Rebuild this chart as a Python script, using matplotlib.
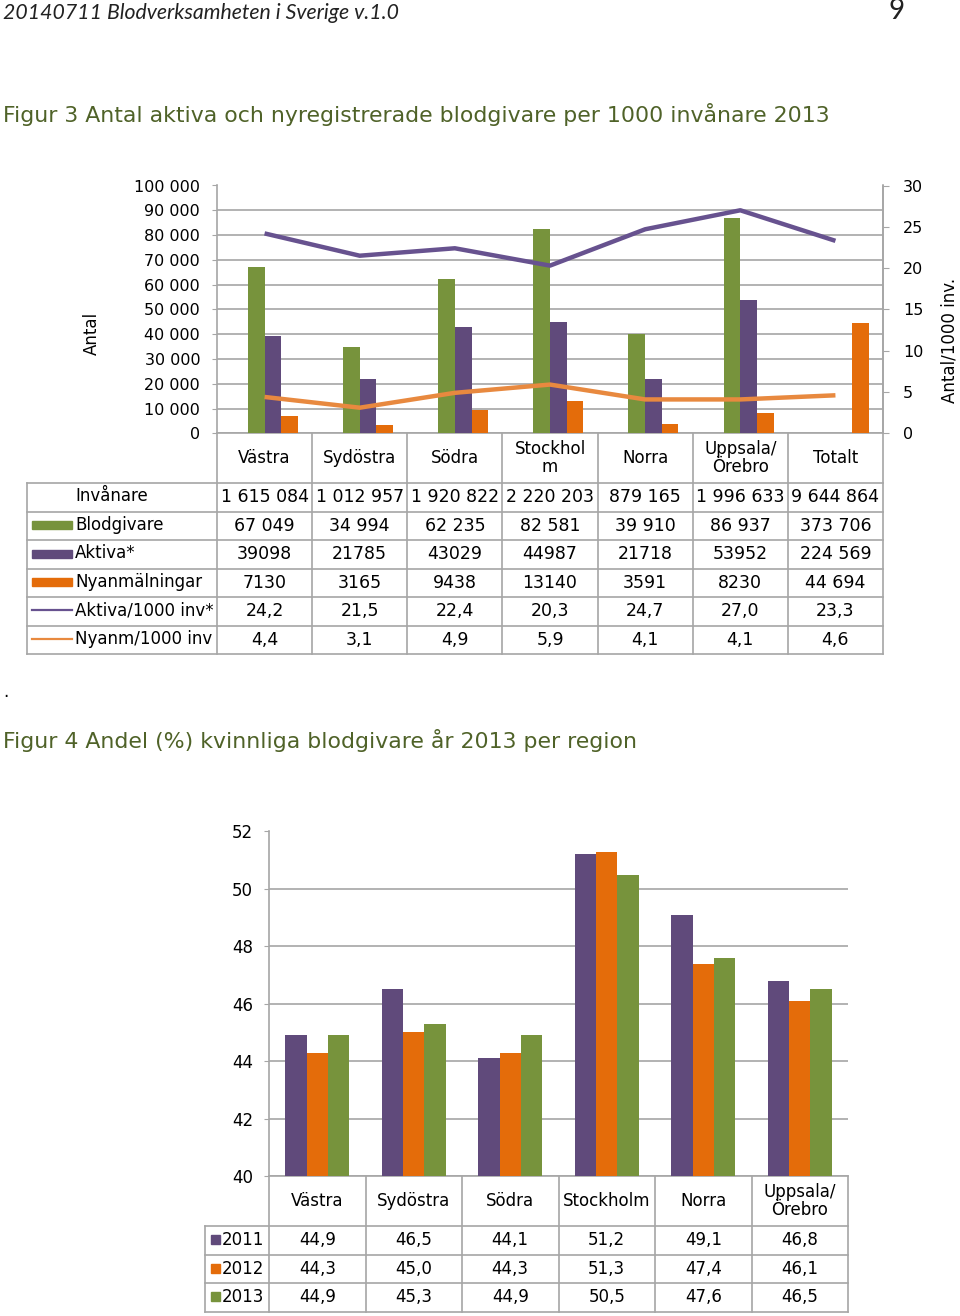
import matplotlib
matplotlib.use("Agg")
import matplotlib.pyplot as plt
import numpy as np

plt.rcParams['font.family'] = ['DejaVu Sans']

# --- Figur 3 data ---
kategorier3 = ["Västra", "Sydöstra", "Södra", "Stockhol\nm", "Norra", "Uppsala/\nÖrebro", "Totalt"]
invanare = [1615084, 1012957, 1920822, 2220203, 879165, 1996633, 9644864]
blodgivare = [67049, 34994, 62235, 82581, 39910, 86937, 373706]
aktiva = [39098, 21785, 43029, 44987, 21718, 53952, 224569]
nyanm = [7130, 3165, 9438, 13140, 3591, 8230, 44694]
aktiva_1000 = [24.2, 21.5, 22.4, 20.3, 24.7, 27.0, 23.3]
nyanm_1000 = [4.4, 3.1, 4.9, 5.9, 4.1, 4.1, 4.6]
vanster_ticks = [0, 10000, 20000, 30000, 40000, 50000, 60000, 70000, 80000, 90000, 100000]
hoger_ticks = [0, 5, 10, 15, 20, 25, 30]

# --- Figur 4 data ---
kategorier4 = ["Västra", "Sydöstra", "Södra", "Stockholm", "Norra", "Uppsala/\nÖrebro"]
ar = ["2011", "2012", "2013"]
andel2011 = [44.9, 46.5, 44.1, 51.2, 49.1, 46.8]
andel2012 = [44.3, 45.0, 44.3, 51.3, 47.4, 46.1]
andel2013 = [44.9, 45.3, 44.9, 50.5, 47.6, 46.5]
ticks4 = [40, 42, 44, 46, 48, 50, 52]

GRON = "#77933C"
LILA = "#604A7B"
ORANGE = "#E46C0A"
LILA_LINJE = "#67528F"
ORANGE_LINJE = "#E8893F"
GRID = "#A6A6A6"
TITELFARG = "#4F6228"

W, H = 960, 1316
fig = plt.figure(figsize=(W / 100, H / 100), dpi=100)


def ax_rect(x0, y0, x1, y1):
    # pixel box (top-left origin) -> figure fraction
    return [x0 / W, 1 - y1 / H, (x1 - x0) / W, (y1 - y0) / H]


def fmt(v, grupp):
    if isinstance(v, float):
        return f"{v:.1f}".replace(".", ",")
    if grupp:
        return f"{v:,}".replace(",", " ")
    return str(v)


# overlay for text and tables, pixel coordinates
ov = fig.add_axes([0, 0, 1, 1])
ov.set_xlim(0, W)
ov.set_ylim(H, 0)
ov.axis("off")
ov.patch.set_alpha(0)

ov.text(3, 13, "20140711 Blodverksamheten i Sverige v.1.0", fontsize=15.3, style="italic",
        family="Lato", va="center", ha="left", color="#222222")
ov.text(897, 11, "9", fontsize=20, family="Lato", va="center", ha="center", color="#222222")
ov.text(3, 114, "Figur 3 Antal aktiva och nyregistrerade blodgivare per 1000 invånare 2013",
        fontsize=15.8, color=TITELFARG, va="center", ha="left")
ov.text(3, 692, ".", fontsize=12, va="center", ha="left")
ov.text(3, 741, "Figur 4 Andel (%) kvinnliga blodgivare år 2013 per region",
        fontsize=15.8, color=TITELFARG, va="center", ha="left")

# ---------------- Figur 3 ----------------
X0, X1, YT, YB = 217, 883, 185.5, 433.3
ax1 = fig.add_axes(ax_rect(X0, YT, X1, YB))
ax2 = ax1.twinx()
n = len(kategorier3)
x = np.arange(n)
ymax = 100000
bw = 0.175
serier = [(invanare, "none"), (blodgivare, GRON), (aktiva, LILA), (nyanm, ORANGE)]
for i, (vals, farg) in enumerate(serier):
    off = (i - 1.5) * bw
    vals = np.array(vals)
    synlig = vals <= ymax
    if farg == "none" or not synlig.any():
        continue
    ax1.bar(x[synlig] + off, vals[synlig], bw, color=farg, zorder=3)

ax1.set_xlim(-0.5, n - 0.5)
ax1.set_ylim(0, ymax)
ax1.set_yticks(vanster_ticks)
ax1.set_yticklabels([fmt(t, True) for t in vanster_ticks], fontsize=11.5)
ax1.yaxis.grid(True, color=GRID, lw=1.2, zorder=0)
ax1.set_axisbelow(True)
ax1.set_xticks([])
ax1.tick_params(axis="y", length=3.6, color=GRID, pad=8.5)
for s in ["top"]:
    ax1.spines[s].set_visible(False)
for s in ["left", "bottom", "right"]:
    ax1.spines[s].set_color(GRID)
    ax1.spines[s].set_linewidth(1.2)

ax2.plot(x, aktiva_1000, color=LILA_LINJE, lw=3.2, solid_capstyle="butt", zorder=4)
ax2.plot(x, nyanm_1000, color=ORANGE_LINJE, lw=3.2, solid_capstyle="butt", zorder=4)
ax2.set_ylim(0, 30)
ax2.set_yticks(hoger_ticks)
ax2.set_yticklabels([str(t) for t in hoger_ticks], fontsize=11.5)
ax2.tick_params(axis="y", length=4.5, color=GRID, pad=10)
for s in ["top", "left", "bottom"]:
    ax2.spines[s].set_visible(False)
ax2.spines["right"].set_color(GRID)
ax2.spines["right"].set_linewidth(1.2)

ov.text(92, 333, "Antal", rotation=90, fontsize=12, va="center", ha="center")
ov.text(950, 340, "Antal/1000 inv.", rotation=90, fontsize=12, va="center", ha="center")

# table under figur 3
kolw = (X1 - X0) / n
radh = 28.5
rad0 = 483
T_LEFT = 27
nrader = 6
for k in range(nrader + 1):
    y = rad0 + k * radh
    ov.plot([T_LEFT, X1], [y, y], color=GRID, lw=1.2)
ov.plot([T_LEFT, T_LEFT], [rad0, rad0 + nrader * radh], color=GRID, lw=1.2)
for k in range(n + 1):
    xx = X0 + k * kolw
    ov.plot([xx, xx], [YB, rad0 + nrader * radh], color=GRID, lw=1.2)
for k, lab in enumerate(kategorier3):
    ov.text(X0 + (k + 0.5) * kolw, 458, lab, fontsize=12, ha="center", va="center",
            linespacing=1.0)

radnamn = ["Invånare", "Blodgivare", "Aktiva*", "Nyanmälningar", "Aktiva/1000 inv*", "Nyanm/1000 inv"]
raddata = [invanare, blodgivare, aktiva, nyanm, aktiva_1000, nyanm_1000]
gruppering = [True, True, False, False, False, False]
nycklar = [None, ("bar", GRON), ("bar", LILA), ("bar", ORANGE), ("line", LILA_LINJE), ("line", ORANGE_LINJE)]
for r in range(nrader):
    yc = rad0 + (r + 0.5) * radh
    ov.text(75, yc - 1, radnamn[r], fontsize=12, ha="left", va="center")
    if nycklar[r] is not None:
        typ, farg = nycklar[r]
        if typ == "bar":
            ov.add_patch(plt.Rectangle((32, yc - 4.5), 40, 8, color=farg))
        else:
            ov.plot([32, 72], [yc - 1, yc - 1], color=farg, lw=1.6)
    for k in range(n):
        g = gruppering[r] or k == n - 1
        ov.text(X0 + (k + 0.5) * kolw, yc, fmt(raddata[r][k], g), fontsize=12.5,
                ha="center", va="center")

# ---------------- Figur 4 ----------------
B0, B1, BT, BB = 269, 848, 831.5, 1176
ax3 = fig.add_axes(ax_rect(B0, BT, B1, BB))
m = len(kategorier4)
x4 = np.arange(m)
bw4 = 0.22
for i, (vals, farg) in enumerate([(andel2011, LILA), (andel2012, ORANGE), (andel2013, GRON)]):
    ax3.bar(x4 + (i - 1) * bw4, np.array(vals) - 40, bw4, bottom=40, color=farg, zorder=3)
ax3.set_xlim(-0.5, m - 0.5)
ax3.set_ylim(40, 52)
ax3.set_yticks(ticks4)
ax3.set_yticklabels([str(t) for t in ticks4], fontsize=12)
ax3.yaxis.grid(True, color=GRID, lw=1.2, zorder=0)
ax3.set_axisbelow(True)
ax3.set_xticks([])
ax3.tick_params(axis="y", length=3.6, color=GRID, pad=8)
for s in ["top", "right"]:
    ax3.spines[s].set_visible(False)
for s in ["left", "bottom"]:
    ax3.spines[s].set_color(GRID)
    ax3.spines[s].set_linewidth(1.2)

kolw4 = (B1 - B0) / m
rad4 = 1226
radh4 = 28.5
L4 = 205
for k in range(4):
    y = rad4 + k * radh4
    ov.plot([L4, B1], [y, y], color=GRID, lw=1.2)
ov.plot([L4, L4], [rad4, rad4 + 3 * radh4], color=GRID, lw=1.2)
for k in range(m + 1):
    xx = B0 + k * kolw4
    ov.plot([xx, xx], [BB, rad4 + 3 * radh4], color=GRID, lw=1.2)
for k, lab in enumerate(kategorier4):
    ov.text(B0 + (k + 0.5) * kolw4, 1201, lab, fontsize=12, ha="center", va="center",
            linespacing=1.0)
for r, (namn, vals, farg) in enumerate(zip(ar, [andel2011, andel2012, andel2013], [LILA, ORANGE, GRON])):
    yc = rad4 + (r + 0.5) * radh4
    ov.add_patch(plt.Rectangle((211, yc - 5), 9, 9, color=farg))
    ov.text(222, yc, namn, fontsize=12, ha="left", va="center")
    for k in range(m):
        ov.text(B0 + (k + 0.5) * kolw4, yc, fmt(vals[k], False), fontsize=12,
                ha="center", va="center")

fig.savefig("out.png", dpi=100)
